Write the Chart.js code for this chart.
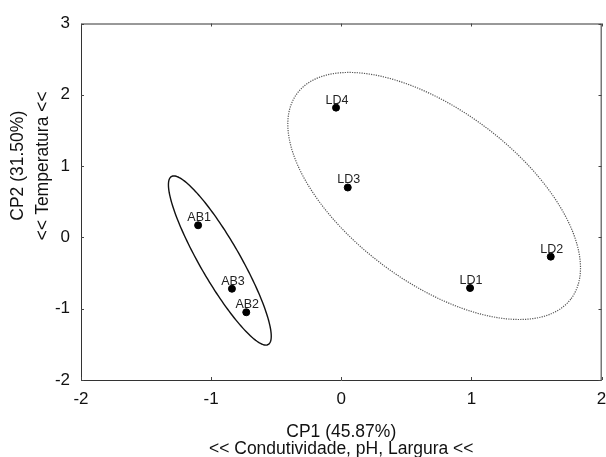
<!DOCTYPE html>
<html>
<head>
<meta charset="utf-8">
<script src="https://cdn.jsdelivr.net/npm/chart.js@4.4.0/dist/chart.umd.min.js"></script>
<style>
    html, body { margin: 0; padding: 0; background: #fff; }
    #wrap { width: 606px; height: 457px; }
</style>
</head>
<body>
<div id="wrap"><canvas id="pcaChart"></canvas></div>
<script>
// Sample scores on the first two principal components
const sampleNames = ['AB1', 'AB2', 'AB3', 'LD1', 'LD2', 'LD3', 'LD4'];
const cp1Scores = [-1.10, -0.73, -0.84, 0.99, 1.61, 0.05, -0.04];
const cp2Scores = [0.17, -1.05, -0.72, -0.71, -0.27, 0.70, 1.82];

// Axis ticks
const xTickValues = [-2, -1, 0, 1, 2];
const yTickValues = [-2, -1, 0, 1, 2, 3];

// Group ellipses (data units): center, first half-axis, second half-axis
const ellipseNames = ['AB', 'LD'];
const ellipseCenters = [[-0.933, -0.324], [0.714, 0.581]];
const ellipseAxisA = [[0.372, -1.178], [1.053, -1.439]];
const ellipseAxisB = [[0.133, 0.140], [0.395, 0.965]];

const xTitle = ['CP1 (45.87%)', '<< Condutividade, pH, Largura <<'];
const yTitle = ['CP2 (31.50%)', '<< Temperatura <<'];

const FONT = '"Liberation Sans", Arial, sans-serif';

// draws the two group ellipses through the chart scales
const ellipsePlugin = {
    id: 'ellipses',
    beforeDatasetsDraw(chart) {
        const ctx = chart.ctx;
        const xs = chart.scales.x, ys = chart.scales.y;
        ellipseNames.forEach((name, k) => {
            const c = ellipseCenters[k], a = ellipseAxisA[k], b = ellipseAxisB[k];
            ctx.save();
            ctx.beginPath();
            for (let s = 0; s <= 180; s++) {
                const t = s / 180 * Math.PI * 2;
                const vx = c[0] + a[0] * Math.cos(t) + b[0] * Math.sin(t);
                const vy = c[1] + a[1] * Math.cos(t) + b[1] * Math.sin(t);
                const px = xs.getPixelForValue(vx), py = ys.getPixelForValue(vy);
                if (s === 0) ctx.moveTo(px, py); else ctx.lineTo(px, py);
            }
            ctx.closePath();
            if (name === 'LD') {
                ctx.strokeStyle = '#555';
                ctx.lineWidth = 1.2;
                ctx.setLineDash([1.2, 1.2]);
            } else {
                ctx.strokeStyle = '#111';
                ctx.lineWidth = 1.4;
            }
            ctx.stroke();
            ctx.restore();
        });
    }
};

// frame, inward ticks, point labels and the y title
const decorPlugin = {
    id: 'decor',
    afterDraw(chart) {
        const ctx = chart.ctx;
        const area = chart.chartArea;
        const xs = chart.scales.x, ys = chart.scales.y;
        ctx.save();
        ctx.lineWidth = 1;
        ctx.strokeStyle = '#333';
        ctx.beginPath();
        ctx.moveTo(area.left + 0.5, area.top + 0.5);
        ctx.lineTo(area.left + 0.5, area.bottom + 0.5);
        ctx.lineTo(area.right, area.bottom + 0.5);
        ctx.moveTo(area.left + 0.5, area.top + 0.5);
        ctx.lineTo(area.right, area.top + 0.5);
        ctx.stroke();
        ctx.strokeStyle = '#777';
        ctx.lineWidth = 1.5;
        ctx.beginPath();
        ctx.moveTo(area.right - 0.25, area.top);
        ctx.lineTo(area.right - 0.25, area.bottom + 1);
        ctx.stroke();

        // inward ticks on all four sides
        ctx.strokeStyle = '#444';
        ctx.lineWidth = 1;
        ctx.beginPath();
        xTickValues.forEach(v => {
            const px = Math.round(xs.getPixelForValue(v)) + 0.5;
            ctx.moveTo(px, area.bottom); ctx.lineTo(px, area.bottom - 3);
            ctx.moveTo(px, area.top); ctx.lineTo(px, area.top + 3);
        });
        yTickValues.forEach(v => {
            const py = Math.round(ys.getPixelForValue(v)) + 0.5;
            ctx.moveTo(area.left, py); ctx.lineTo(area.left + 3, py);
            ctx.moveTo(area.right, py); ctx.lineTo(area.right - 3, py);
        });
        ctx.stroke();

        // sample labels
        ctx.fillStyle = '#222';
        ctx.font = '12.5px ' + FONT;
        ctx.textAlign = 'center';
        ctx.textBaseline = 'alphabetic';
        chart.getDatasetMeta(0).data.forEach((pt, i) => {
            ctx.fillText(sampleNames[i], pt.x + 1, pt.y - 4);
        });

        // y axis title (two lines, rotated)
        ctx.fillStyle = '#111';
        ctx.font = '17.5px ' + FONT;
        ctx.textBaseline = 'middle';
        const midY = (area.top + area.bottom) / 2 - 36;
        [area.left - 62.5, area.left - 38].forEach((tx, i) => {
            ctx.save();
            ctx.translate(tx, midY);
            ctx.rotate(-Math.PI / 2);
            ctx.fillText(yTitle[i], 0, 0);
            ctx.restore();
        });
        ctx.restore();
    }
};

const points = cp1Scores.map((x, i) => ({ x: x, y: cp2Scores[i] }));

new Chart(document.getElementById('pcaChart'), {
    type: 'scatter',
    data: {
        datasets: [{
            label: 'Amostras',
            data: points,
            backgroundColor: '#000',
            borderColor: '#000',
            pointRadius: 3.5,
            pointHoverRadius: 3.5
        }]
    },
    options: {
        responsive: true,
        maintainAspectRatio: false,
        animation: false,
        layout: { padding: { top: 23.5, right: 4, left: 0, bottom: 0 } },
        plugins: {
            legend: { display: false },
            tooltip: { enabled: false }
        },
        scales: {
            x: {
                type: 'linear',
                min: -2,
                max: 2,
                afterFit: scale => {
                    scale.height = 77;
                    scale.paddingLeft = 0;
                    scale.paddingRight = 0;
                },
                afterBuildTicks: scale => { scale.ticks = xTickValues.map(v => ({ value: v })); },
                grid: { display: false, drawTicks: false },
                border: { display: false },
                ticks: {
                    padding: 9,
                    color: '#111',
                    font: { family: FONT, size: 17 }
                },
                title: {
                    display: true,
                    text: xTitle,
                    color: '#111',
                    padding: { top: 0, bottom: -1.25 },
                    font: { family: FONT, size: 17.5, lineHeight: 1.0 }
                }
            },
            y: {
                type: 'linear',
                min: -2,
                max: 3,
                afterFit: scale => {
                    scale.width = 81;
                    scale.paddingTop = 0;
                    scale.paddingBottom = 0;
                },
                afterBuildTicks: scale => { scale.ticks = yTickValues.map(v => ({ value: v })); },
                grid: { display: false, drawTicks: false },
                border: { display: false },
                ticks: {
                    padding: 11,
                    color: '#111',
                    font: { family: FONT, size: 17 }
                }
            }
        }
    },
    plugins: [ellipsePlugin, decorPlugin]
});
</script>
</body>
</html>
